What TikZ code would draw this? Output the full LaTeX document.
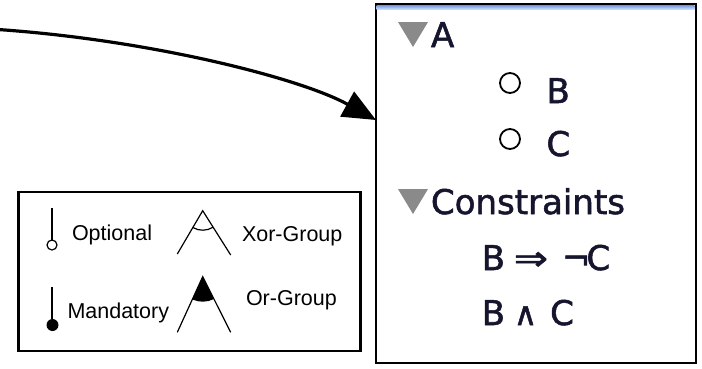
\documentclass[tikz,border=0pt]{standalone}
\usepackage{fontspec}
\setmainfont{Liberation Sans}
\newfontfamily\lucida[FakeBold=1.6]{DejaVu Sans}
\usetikzlibrary{arrows.meta,calc}
\definecolor{txtdark}{HTML}{15152E}
\definecolor{tricol}{HTML}{8A8A8A}
\definecolor{bandtop}{HTML}{6F95E0}
\definecolor{bandbot}{HTML}{D8E4F8}
\tikzset{
  paneltext/.style={anchor=base west, inner sep=0pt, outer sep=0pt, text=txtdark, font=\lucida\fontsize{34}{40}\selectfont},
  legtext/.style={anchor=base west, inner sep=0pt, outer sep=0pt, font=\fontsize{21.5}{25}\selectfont},
  sym/.style={line width=1.2pt},
  opt/.style={line width=1.8pt, draw=black},
}
\begin{document}
\begin{tikzpicture}[x=1pt,y=-1pt]
\useasboundingbox (0,0) rectangle (702,368);
% right panel
\node[draw, line width=2pt, minimum width=320.5pt, minimum height=359pt, inner sep=0pt, outer sep=0pt, anchor=north west] (panel) at (375.5,4) {};
\shade[top color=bandtop, bottom color=bandbot] (376.5,5) rectangle (694.5,9.5);
\draw[line width=2pt] (panel.north west) -- (panel.north east);
% disclosure triangles
\fill[tricol] (398,22) -- (428,22) -- (413,47) -- cycle;
\fill[tricol] (398,189) -- (428,189) -- (413,214) -- cycle;
\node[paneltext] (fa) at (431,47) {A};
\draw[opt] (510,83) circle (10);
\node[paneltext] (fb) at (546.5,103) {B};
\draw[opt] (510,139) circle (10);
\node[paneltext] (fc) at (546.5,156) {C};
\node[paneltext] (cons) at (431,214) {Constraints};
\node[paneltext] (c1) at (481.7,270) {B\hspace{8.8pt}\scalebox{1.2}[1]{⇒}\hspace{14pt}¬\hspace{-4pt}C};
\node[paneltext] (c2) at (481.7,325) {B\hspace{8.8pt}{\fontsize{32}{34}\selectfont ∧}\hspace{12.9pt}C};
% arrow
\coordinate (src) at (-2,29.5);
\coordinate (tip) at ($(panel.north west)+(0.5,116)$);
\draw[line width=3.2pt, -{Triangle[length=33pt,width=28pt]}] (src) .. controls (150,40) and (300,78) .. (tip);
% legend
\node[draw, line width=2.5pt, minimum width=342pt, minimum height=159pt, inner sep=0pt, outer sep=0pt, anchor=north west] (legend) at (18.5,192) {};
\draw[sym] (52,208) -- (52,240);
\draw[sym, fill=white] (52,245) circle (5);
\draw[sym] (52,287) -- (52,319);
\fill (52.5,325) circle (6);
\node[legtext] (lopt) at (72,240) {Optional};
\node[legtext] (lman) at (67.5,318) {Mandatory};
\node[legtext] (lxor) at (242,241.5) {Xor-Group};
\node[legtext] (lor) at (246,305) {Or-Group};
% xor symbol
\coordinate (xa) at (202.7,210.7);
\draw[sym] (177.3,254) -- (xa) -- (230.7,255);
\draw[sym] (xa) ++(120.4:19.5) arc[start angle=120.4, end angle=57.7, radius=19.5];
% or symbol
\coordinate (oa) at (202.7,276.7);
\fill (oa) -- ++(114.6:25) arc[start angle=114.6, end angle=63.3, radius=25] -- cycle;
\draw[sym] (177.3,332.3) -- (oa) -- (230.7,332.3);
\end{tikzpicture}
\end{document}
